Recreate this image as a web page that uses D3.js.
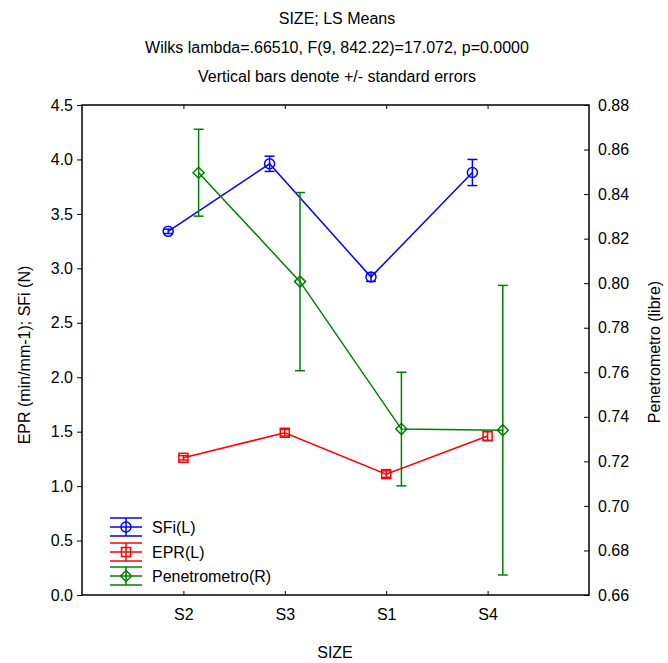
<!DOCTYPE html>
<html>
<head>
<meta charset="utf-8">
<script src="https://cdn.jsdelivr.net/npm/d3@7"></script>
<style>
  body { margin: 0; background: #fff; }
  svg { display: block; font-family: "Liberation Sans", Arial, sans-serif; }
</style>
</head>
<body>
<svg id="chart" width="668" height="663"></svg>
<script>
// ---- data ----
const categories = ["S2", "S3", "S1", "S4"];
const sfiMean = [3.34, 3.96, 2.92, 3.88];
const sfiSE   = [0.02, 0.07, 0.04, 0.12];
const eprMean = [1.26, 1.49, 1.11, 1.46];
const eprSE   = [0.02, 0.03, 0.03, 0.04];
const penMean = [0.8496, 0.8007, 0.7345, 0.7340];
const penSE   = [0.0195, 0.0400, 0.0255, 0.0650];
const leftTicks  = [0, 0.5, 1, 1.5, 2, 2.5, 3, 3.5, 4, 4.5];
const rightTicks = [0.66, 0.68, 0.70, 0.72, 0.74, 0.76, 0.78, 0.80, 0.82, 0.84, 0.86, 0.88];
const seriesNames = ["SFi(L)", "EPR(L)", "Penetrometro(R)"];
const titleLines = ["SIZE; LS Means",
  "Wilks lambda=.66510, F(9, 842.22)=17.072, p=0.0000",
  "Vertical bars denote +/- standard errors"];

// ---- layout ----
const L = 82, R = 589, T = 105, B = 595;
const svg = d3.select("#chart");

const x = d3.scaleLinear().domain([0, 5]).range([L, R]);
const yL = d3.scaleLinear().domain([0, 4.5]).range([B, T]);
const yR = d3.scaleLinear().domain([0.66, 0.88]).range([B, T]);

const series = [
  { name: seriesNames[0], mean: sfiMean, se: sfiSE, y: yL, color: "#0000ff", shape: "circle", off: -0.15 },
  { name: seriesNames[1], mean: eprMean, se: eprSE, y: yL, color: "#ff0000", shape: "square", off: 0 },
  { name: seriesNames[2], mean: penMean, se: penSE, y: yR, color: "#008000", shape: "diamond", off: 0.15 }
];

// titles
const titleY = [24, 53, 82];
titleLines.forEach((t, i) => {
  svg.append("text").attr("x", 337).attr("y", titleY[i])
    .attr("text-anchor", "middle").attr("font-size", 16).attr("fill", "#000").text(t);
});

// axes
const fmt1 = d3.format(".1f"), fmt2 = d3.format(".2f");
const gL = svg.append("g").attr("transform", `translate(${L},0)`)
  .call(d3.axisLeft(yL).tickValues(leftTicks).tickFormat(fmt1).tickSize(5).tickPadding(4));
const gR = svg.append("g").attr("transform", `translate(${R},0)`)
  .call(d3.axisRight(yR).tickValues(rightTicks).tickFormat(fmt2).tickSize(-5).tickPadding(9));
const gB = svg.append("g").attr("transform", `translate(0,${B})`)
  .call(d3.axisBottom(x).tickValues([1, 2, 3, 4]).tickFormat((d) => categories[d - 1]).tickSize(-4).tickPadding(14));
const gT = svg.append("g").attr("transform", `translate(0,${T})`)
  .call(d3.axisTop(x).tickValues([1, 2, 3, 4]).tickFormat("").tickSize(-4));
[gL, gR, gB, gT].forEach(g => {
  g.select(".domain").remove();
  g.selectAll("text").attr("font-size", 16).attr("fill", "#000").attr("font-family", "Liberation Sans, Arial, sans-serif");
  g.selectAll("line").attr("stroke", "#000");
});

// frame
svg.append("rect").attr("x", L).attr("y", T).attr("width", R - L).attr("height", B - T)
  .attr("fill", "none").attr("stroke", "#000").attr("stroke-width", 1.5);

// axis titles
svg.append("text").attr("x", 335).attr("y", 658).attr("text-anchor", "middle")
  .attr("font-size", 16).text("SIZE");
svg.append("text").attr("transform", "translate(30,355) rotate(-90)").attr("text-anchor", "middle")
  .attr("font-size", 16).text("EPR (min/mm-1); SFi (N)");
svg.append("text").attr("transform", "translate(660,352) rotate(-90)").attr("text-anchor", "middle")
  .attr("font-size", 16).text("Penetrometro (libre)");

// markers
function drawMarker(g, shape, cx, cy, color) {
  if (shape === "circle") {
    g.append("circle").attr("cx", cx).attr("cy", cy).attr("r", 5)
      .attr("fill", "none").attr("stroke", color).attr("stroke-width", 1.5);
  } else if (shape === "square") {
    g.append("rect").attr("x", cx - 4.5).attr("y", cy - 4.5).attr("width", 9).attr("height", 9)
      .attr("fill", "none").attr("stroke", color).attr("stroke-width", 1.5);
  } else {
    g.append("path").attr("d", `M${cx},${cy - 5.5}L${cx + 5.5},${cy}L${cx},${cy + 5.5}L${cx - 5.5},${cy}Z`)
      .attr("fill", "none").attr("stroke", color).attr("stroke-width", 1.5);
  }
}

// series
series.forEach(s => {
  const g = svg.append("g");
  const pts = s.mean.map((m, i) => [x(i + 1 + s.off), s.y(m)]);
  g.append("path").attr("d", d3.line()(pts)).attr("fill", "none")
    .attr("stroke", s.color).attr("stroke-width", 1.5);
  s.mean.map((m, i) => {
    const cx = x(i + 1 + s.off);
    const y1 = s.y(m + s.se[i]), y0 = s.y(m - s.se[i]);
    g.append("line").attr("x1", cx).attr("x2", cx).attr("y1", y1).attr("y2", y0)
      .attr("stroke", s.color).attr("stroke-width", 1.5);
    [y1, y0].forEach(yy => g.append("line").attr("x1", cx - 5).attr("x2", cx + 5)
      .attr("y1", yy).attr("y2", yy).attr("stroke", s.color).attr("stroke-width", 1.5));
    drawMarker(g, s.shape, cx, s.y(m), s.color);
  });
});

// legend
const legY = [527, 552, 576];
series.forEach((s, i) => {
  const g = svg.append("g");
  const cy = legY[i], x0 = 110, x1 = 142, cx = 126;
  [cy - 9, cy, cy + 9].forEach(yy => g.append("line").attr("x1", x0).attr("x2", x1)
    .attr("y1", yy).attr("y2", yy).attr("stroke", s.color).attr("stroke-width", 1.5));
  g.append("line").attr("x1", cx).attr("x2", cx).attr("y1", cy - 9).attr("y2", cy + 9)
    .attr("stroke", s.color).attr("stroke-width", 1.5);
  drawMarker(g, s.shape, cx, cy, s.color);
  g.append("text").attr("x", 152).attr("y", cy + 6).attr("font-size", 16).text(s.name);
});
</script>
</body>
</html>
